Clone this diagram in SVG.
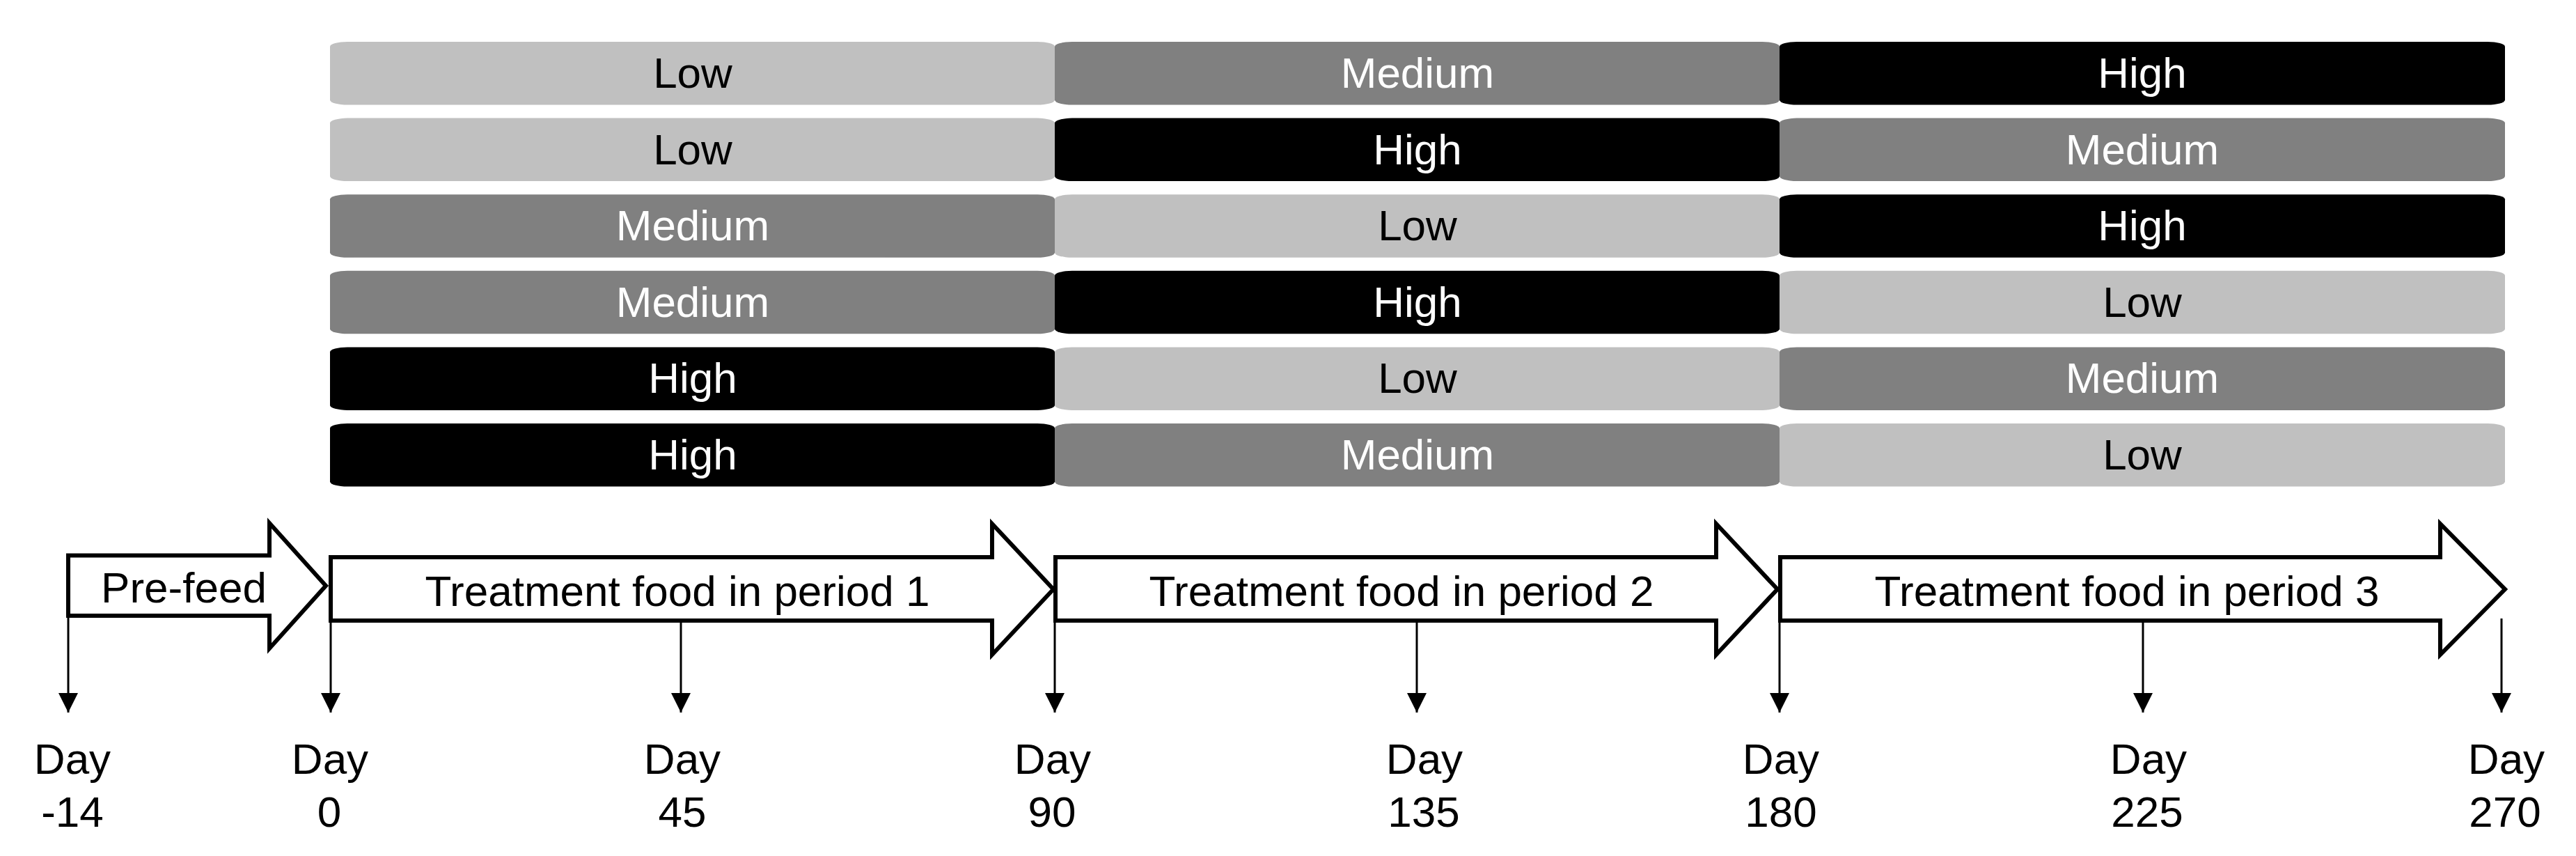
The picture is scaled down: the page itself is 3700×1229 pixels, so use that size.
<svg xmlns="http://www.w3.org/2000/svg" width="3700" height="1229" viewBox="0 0 3700 1229">
<defs>
<style>
text{font-family:"Liberation Sans",Arial,sans-serif;font-size:62px;text-anchor:middle}
.lo{fill:#c0c0c0}.me{fill:#808080}.hi{fill:#000000}
.tk{fill:#000000}.tw{fill:#ffffff}
.arr{fill:#ffffff;stroke:#000000;stroke-width:6;stroke-linejoin:miter;stroke-miterlimit:10}
.ln{stroke:#000000;stroke-width:3;fill:none}
</style>
<marker id="ah" markerUnits="userSpaceOnUse" markerWidth="28" markerHeight="28" viewBox="0 0 28 28" refX="28" refY="14" orient="auto">
<path d="M0,0 L28,14 L0,28 Z" fill="#000000"/>
</marker>
</defs>
<rect width="3700" height="1229" fill="#ffffff"/>

<g id="bars">
<g id="row1">
<rect class="lo" x="474" y="60" width="1041" height="90.5" rx="25" ry="7"/>
<rect class="me" x="1515" y="60" width="1041" height="90.5" rx="25" ry="7"/>
<rect class="hi" x="2556" y="60" width="1042" height="90.5" rx="25" ry="7"/>
<text class="tk" x="995" y="126">Low</text>
<text class="tw" x="2036" y="126">Medium</text>
<text class="tw" x="3077" y="126">High</text>
</g>
<g id="row2">
<rect class="lo" x="474" y="169.6" width="1041" height="90.5" rx="25" ry="7"/>
<rect class="hi" x="1515" y="169.6" width="1041" height="90.5" rx="25" ry="7"/>
<rect class="me" x="2556" y="169.6" width="1042" height="90.5" rx="25" ry="7"/>
<text class="tk" x="995" y="235.6">Low</text>
<text class="tw" x="2036" y="235.6">High</text>
<text class="tw" x="3077" y="235.6">Medium</text>
</g>
<g id="row3">
<rect class="me" x="474" y="279.2" width="1041" height="90.5" rx="25" ry="7"/>
<rect class="lo" x="1515" y="279.2" width="1041" height="90.5" rx="25" ry="7"/>
<rect class="hi" x="2556" y="279.2" width="1042" height="90.5" rx="25" ry="7"/>
<text class="tw" x="995" y="345.2">Medium</text>
<text class="tk" x="2036" y="345.2">Low</text>
<text class="tw" x="3077" y="345.2">High</text>
</g>
<g id="row4">
<rect class="me" x="474" y="388.8" width="1041" height="90.5" rx="25" ry="7"/>
<rect class="hi" x="1515" y="388.8" width="1041" height="90.5" rx="25" ry="7"/>
<rect class="lo" x="2556" y="388.8" width="1042" height="90.5" rx="25" ry="7"/>
<text class="tw" x="995" y="454.8">Medium</text>
<text class="tw" x="2036" y="454.8">High</text>
<text class="tk" x="3077" y="454.8">Low</text>
</g>
<g id="row5">
<rect class="hi" x="474" y="498.4" width="1041" height="90.5" rx="25" ry="7"/>
<rect class="lo" x="1515" y="498.4" width="1041" height="90.5" rx="25" ry="7"/>
<rect class="me" x="2556" y="498.4" width="1042" height="90.5" rx="25" ry="7"/>
<text class="tw" x="995" y="564.4">High</text>
<text class="tk" x="2036" y="564.4">Low</text>
<text class="tw" x="3077" y="564.4">Medium</text>
</g>
<g id="row6">
<rect class="hi" x="474" y="608" width="1041" height="90.5" rx="25" ry="7"/>
<rect class="me" x="1515" y="608" width="1041" height="90.5" rx="25" ry="7"/>
<rect class="lo" x="2556" y="608" width="1042" height="90.5" rx="25" ry="7"/>
<text class="tw" x="995" y="674">High</text>
<text class="tw" x="2036" y="674">Medium</text>
<text class="tk" x="3077" y="674">Low</text>
</g>
</g>

<g id="prefeed">
<polygon class="arr" points="98,797.5 387,797.5 387,751 468,841 387,931 387,884 98,884"/>
<text class="tk" x="264" y="865">Pre-feed</text>
</g>
<g id="period1">
<polygon class="arr" points="475,800 1425,800 1425,752 1513,846 1425,940 1425,891 475,891"/>
<text class="tk" x="973" y="870">Treatment food in period 1</text>
</g>
<g id="period2">
<polygon class="arr" points="1516,800 2465,800 2465,752 2553,846 2465,940 2465,891 1516,891"/>
<text class="tk" x="2013" y="870">Treatment food in period 2</text>
</g>
<g id="period3">
<polygon class="arr" points="2557,800 3505,800 3505,752 3598,846 3505,940 3505,891 2557,891"/>
<text class="tk" x="3055" y="870">Treatment food in period 3</text>
</g>

<g id="connectors">
<line class="ln" x1="98" y1="884" x2="98" y2="1023" marker-end="url(#ah)"/>
<line class="ln" x1="475" y1="888" x2="475" y2="1023" marker-end="url(#ah)"/>
<line class="ln" x1="978" y1="888" x2="978" y2="1023" marker-end="url(#ah)"/>
<line class="ln" x1="1515" y1="888" x2="1515" y2="1023" marker-end="url(#ah)"/>
<line class="ln" x1="2035" y1="888" x2="2035" y2="1023" marker-end="url(#ah)"/>
<line class="ln" x1="2556" y1="888" x2="2556" y2="1023" marker-end="url(#ah)"/>
<line class="ln" x1="3078" y1="888" x2="3078" y2="1023" marker-end="url(#ah)"/>
<line class="ln" x1="3593" y1="888" x2="3593" y2="1023" marker-end="url(#ah)"/>
</g>

<g id="days">
<g id="d-14"><text class="tk" x="104" y="1111">Day</text><text class="tk" x="104" y="1187">-14</text></g>
<g id="d0"><text class="tk" x="474" y="1111">Day</text><text class="tk" x="473" y="1187">0</text></g>
<g id="d45"><text class="tk" x="980" y="1111">Day</text><text class="tk" x="980" y="1187">45</text></g>
<g id="d90"><text class="tk" x="1512" y="1111">Day</text><text class="tk" x="1511" y="1187">90</text></g>
<g id="d135"><text class="tk" x="2046" y="1111">Day</text><text class="tk" x="2045" y="1187">135</text></g>
<g id="d180"><text class="tk" x="2558" y="1111">Day</text><text class="tk" x="2558" y="1187">180</text></g>
<g id="d225"><text class="tk" x="3086" y="1111">Day</text><text class="tk" x="3084" y="1187">225</text></g>
<g id="d270"><text class="tk" x="3600" y="1111">Day</text><text class="tk" x="3598" y="1187">270</text></g>
</g>
</svg>
